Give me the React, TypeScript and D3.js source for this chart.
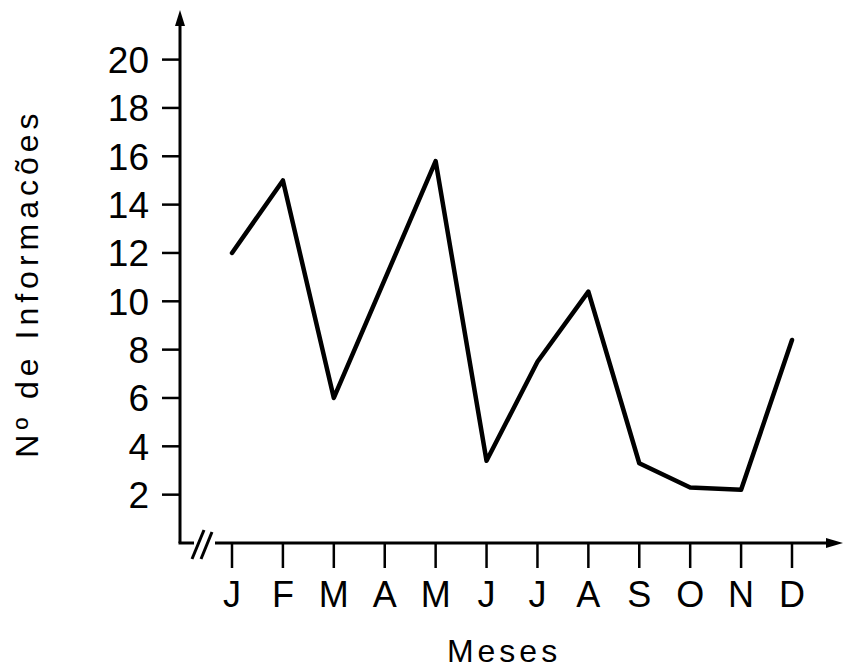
import React from "react";
import * as d3 from "d3";

const months = ["J", "F", "M", "A", "M", "J", "J", "A", "S", "O", "N", "D"];
const values = [12, 15, 6, 11, 15.8, 3.4, 7.5, 10.4, 3.3, 2.3, 2.2, 8.4];
const yTicks = [2, 4, 6, 8, 10, 12, 14, 16, 18, 20];
const yLabel = "Nº de Informacões";
const xLabel = "Meses";

const W = 844;
const H = 671;
const axisX = 180;
const axisY = 543;
const FONT = "'Liberation Sans', Arial, sans-serif";

export default function App() {
  const idx = months.map((_, i) => String(i));
  const x = d3.scalePoint<string>().domain(idx).range([232, 792]);
  const y = d3.scaleLinear().domain([0, 20]).range([axisY, 59.6]);

  // April has no vertex of its own in the original: the line runs straight from March to May.
  const pts = values
    .map((v, i) => ({ v, i }))
    .filter((d) => d.i !== 3);
  const line = d3
    .line<{ v: number; i: number }>()
    .x((d) => x(String(d.i)) as number)
    .y((d) => y(d.v));

  return (
    <svg
      width={W}
      height={H}
      style={{ position: "absolute", left: 0, top: 0, background: "#fff" }}
    >
      {/* Y axis */}
      <line x1={axisX} y1={axisY} x2={axisX} y2={22} stroke="#000" strokeWidth={3} />
      <path d={`M${axisX - 5},26 L${axisX},10 L${axisX + 5},26 Z`} fill="#000" />
      {/* X axis with break */}
      <line x1={axisX - 1.5} y1={axisY} x2={194} y2={axisY} stroke="#000" strokeWidth={3} />
      <line x1={192} y1={559} x2={204} y2={530} stroke="#000" strokeWidth={3} />
      <line x1={201} y1={559} x2={212} y2={532} stroke="#000" strokeWidth={3} />
      <line x1={215} y1={axisY} x2={828} y2={axisY} stroke="#000" strokeWidth={3} />
      <path d={`M826,${axisY - 5} L843,${axisY} L826,${axisY + 5} Z`} fill="#000" />

      {/* Y ticks */}
      {yTicks.map((t) => (
        <g key={t}>
          <line x1={162} x2={axisX} y1={y(t)} y2={y(t)} stroke="#000" strokeWidth={2.5} />
          <text
            x={149}
            y={y(t)}
            dy="0.36em"
            textAnchor="end"
            fontFamily={FONT}
            fontSize={37}
            fill="#000"
          >
            {t}
          </text>
        </g>
      ))}

      {/* X ticks */}
      {months.map((m, i) => (
        <g key={i}>
          <line
            x1={x(String(i))}
            x2={x(String(i))}
            y1={axisY}
            y2={568}
            stroke="#000"
            strokeWidth={2.5}
          />
          <text
            x={x(String(i))}
            y={607}
            textAnchor="middle"
            fontFamily={FONT}
            fontSize={36}
            fill="#000"
          >
            {m}
          </text>
        </g>
      ))}

      {/* Data line */}
      <path
        d={line(pts) || ""}
        fill="none"
        stroke="#000"
        strokeWidth={4.5}
        strokeLinejoin="round"
        strokeLinecap="round"
      />

      {/* Axis titles */}
      <text
        x={504}
        y={662}
        textAnchor="middle"
        fontFamily={FONT}
        fontSize={32}
        letterSpacing={4}
        fill="#000"
      >
        {xLabel}
      </text>
      <text
        transform={`translate(38,283) rotate(-90)`}
        textAnchor="middle"
        fontFamily={FONT}
        fontSize={32}
        letterSpacing={5}
        fill="#000"
      >
        {yLabel}
      </text>
    </svg>
  );
}
